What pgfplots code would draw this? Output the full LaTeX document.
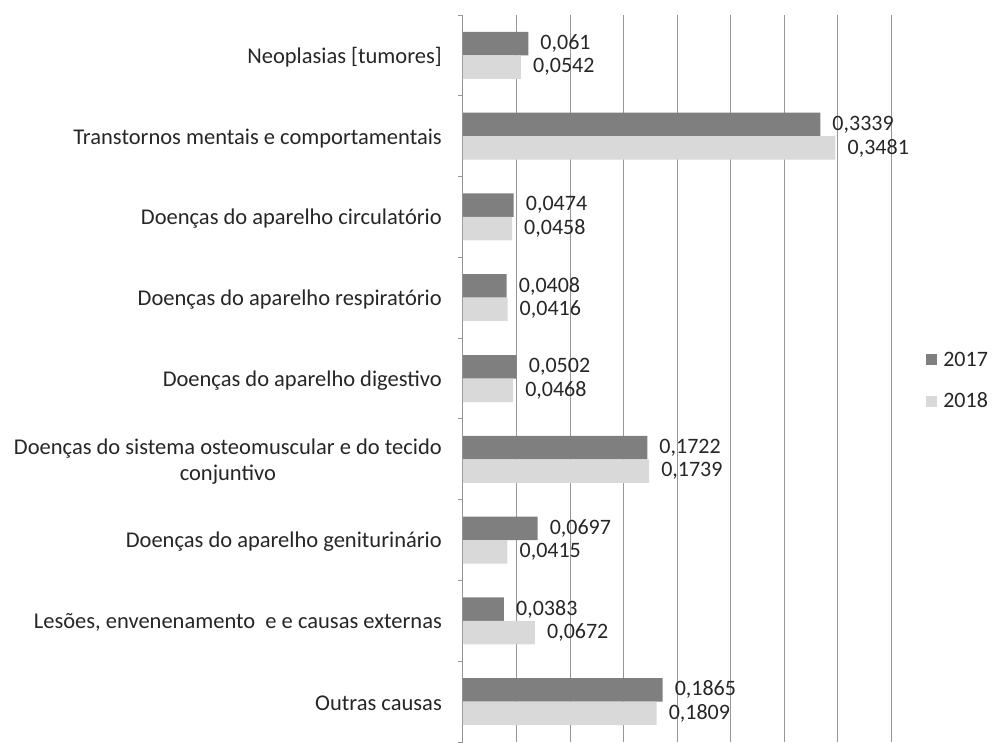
\documentclass[border=0pt]{standalone}
\usepackage{pgfplots}
\pgfplotsset{compat=1.18}
\usepackage{fontspec}
\setmainfont{Carlito}
\definecolor{dark}{RGB}{127,127,127}
\definecolor{light}{RGB}{217,217,217}
\definecolor{gridc}{RGB}{150,150,150}
\definecolor{txt}{RGB}{38,38,38}
\begin{document}
\begin{tikzpicture}
\useasboundingbox (0,0) rectangle (993pt,-742pt);
\begin{axis}[
  at={(463pt,-15pt)}, anchor=north west,
  scale only axis, width=428pt, height=727pt,
  xbar, bar width=23.5pt,
  xmin=0, xmax=0.4, ymin=-0.5, ymax=8.5,
  xtick={0,0.05,0.1,0.15,0.2,0.25,0.3,0.35,0.4}, xticklabels={},
  xmajorgrids, major grid style={gridc, line width=1pt},
  ytick={0,1,2,3,4,5,6,7,8},
  yticklabels={Outras causas,
    {Lesões, envenenamento\ \ e e causas externas},
    Doenças do aparelho geniturinário,
    {Doenças do sistema osteomuscular e do tecido\\conjuntivo},
    Doenças do aparelho digestivo,
    Doenças do aparelho respiratório,
    Doenças do aparelho circulatório,
    Transtornos mentais e comportamentais,
    {Neoplasias [tumores]}},
  minor ytick={-0.5,0.5,1.5,2.5,3.5,4.5,5.5,6.5,7.5,8.5},
  major tick length=0pt, minor tick length=5pt,
  tick align=outside,
  minor tick style={gridc, line width=1pt},
  axis x line*=bottom, x axis line style={draw=none},
  axis y line*=left, y axis line style={gridc, line width=1pt},
  yticklabel style={font=\fontsize{22.5}{26}\selectfont, text=txt, align=center, inner sep=0pt, xshift=-21pt, yshift=-2pt},
  point meta=x,
  nodes near coords={\pgfmathprintnumber[fixed, precision=4, use comma, assume math mode=true]{\pgfplotspointmeta}},
  every node near coord/.append style={anchor=west, inner sep=0pt, xshift=12pt, font=\fontsize{22}{26}\selectfont, text=txt},
  legend style={at={(1.082,0.497)}, anchor=west, draw=none, fill=none,
    font=\fontsize{22}{26}\selectfont, text=txt, row sep=21pt, inner sep=0pt,
    nodes={inner sep=2pt},
    /tikz/every odd column/.append style={column sep=4pt}},
  legend image code/.code={\fill[#1] (0pt,-5.5pt) rectangle (11pt,5.5pt);},
  legend cell align=left,
]
\addplot[fill=dark, draw=none, bar shift=11.75pt] coordinates {
 (0.1865,0) (0.0383,1) (0.0697,2) (0.1722,3) (0.0502,4) (0.0408,5) (0.0474,6) (0.3339,7) (0.061,8)};
\addplot[fill=light, draw=none, bar shift=-11.75pt] coordinates {
 (0.1809,0) (0.0672,1) (0.0415,2) (0.1739,3) (0.0468,4) (0.0416,5) (0.0458,6) (0.3481,7) (0.0542,8)};
\legend{2017,2018}
\end{axis}
\end{tikzpicture}
\end{document}
